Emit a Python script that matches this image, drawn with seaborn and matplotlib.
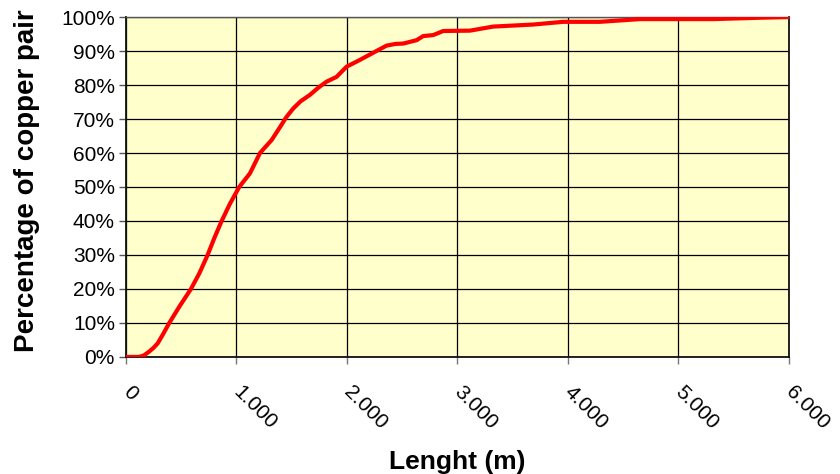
import matplotlib
matplotlib.use("Agg")
import matplotlib.pyplot as plt
import matplotlib.ticker as mticker
import matplotlib.transforms as mtransforms
import seaborn as sns

# data
length_m = [0, 118, 160, 211, 250, 287, 332, 392, 483, 588, 664, 739, 800,
            866, 940, 1025, 1122, 1213, 1318, 1394, 1450, 1514, 1580, 1665,
            1740, 1816, 1906, 1997, 2118, 2238, 2359, 2440, 2510, 2631, 2690,
            2781, 2872, 3113, 3324, 3686, 3958, 4290, 4652, 5315, 5738, 6000]
pct_pairs = [0, 0, 0.4, 1.6, 2.7, 4, 6.5, 10, 14.8, 20, 24.6, 30, 35,
             40, 45, 50, 54, 60, 63.8, 67.6, 70.5, 73.1, 75.2, 77.1,
             79.2, 81, 82.4, 85.4, 87.4, 89.5, 91.6, 92.1, 92.2, 93.2, 94.4,
             94.7, 95.9, 96, 97.2, 97.8, 98.6, 98.6, 99.4, 99.4, 99.8, 100]
x_ticks = [0, 1000, 2000, 3000, 4000, 5000, 6000]
x_tick_labels = ["0", "1.000", "2.000", "3.000", "4.000", "5.000", "6.000"]
y_ticks = list(range(0, 101, 10))

sns.set_style("white")
plt.rcParams["font.family"] = ["Liberation Sans", "DejaVu Sans"]
plt.rcParams["text.color"] = "black"
plt.rcParams["axes.labelcolor"] = "black"

fig = plt.figure(figsize=(8.4, 4.74), dpi=100)
ax = fig.add_axes([0.15, 0.247, 0.789, 0.717])
ax.set_facecolor("#FFFFCC")

sns.lineplot(x=length_m, y=pct_pairs, ax=ax, color="#FF0000",
             linewidth=3.0, zorder=3)

ax.set_xlim(0, 6000)
ax.set_ylim(0, 100)
ax.set_xticks(x_ticks)
ax.set_xticklabels(x_tick_labels, rotation=-45, ha="left", va="center",
                   rotation_mode="anchor", fontsize=15)
shift = mtransforms.ScaledTranslation(8 / 100, 0, fig.dpi_scale_trans)
for lbl in ax.get_xticklabels():
    lbl.set_transform(lbl.get_transform() + shift)
ax.set_yticks(y_ticks)
ax.yaxis.set_major_formatter(mticker.PercentFormatter(decimals=0))
ax.tick_params(axis="y", labelsize=15, length=5, width=1, color="#555555",
               labelcolor="black", direction="out", left=True, pad=3)
ax.tick_params(axis="x", length=5, width=1, color="#777777",
               labelcolor="black", direction="out", bottom=True, pad=18)

ax.grid(True, color="#000000", linewidth=0.9)
for side in ["left", "bottom", "right"]:
    ax.spines[side].set_color("#111111")
    ax.spines[side].set_linewidth(1.3)
ax.spines["top"].set_color("#555555")
ax.spines["top"].set_linewidth(1.0)

ax.set_xlabel("Lenght (m)", fontsize=19, fontweight="bold")
ax.set_ylabel("Percentage of copper pair", fontsize=20, fontweight="bold")
ax.xaxis.set_label_coords(0.5, -0.275)
ax.yaxis.set_label_coords(-0.13, 0.52)

fig.savefig("out.png", dpi=100)
